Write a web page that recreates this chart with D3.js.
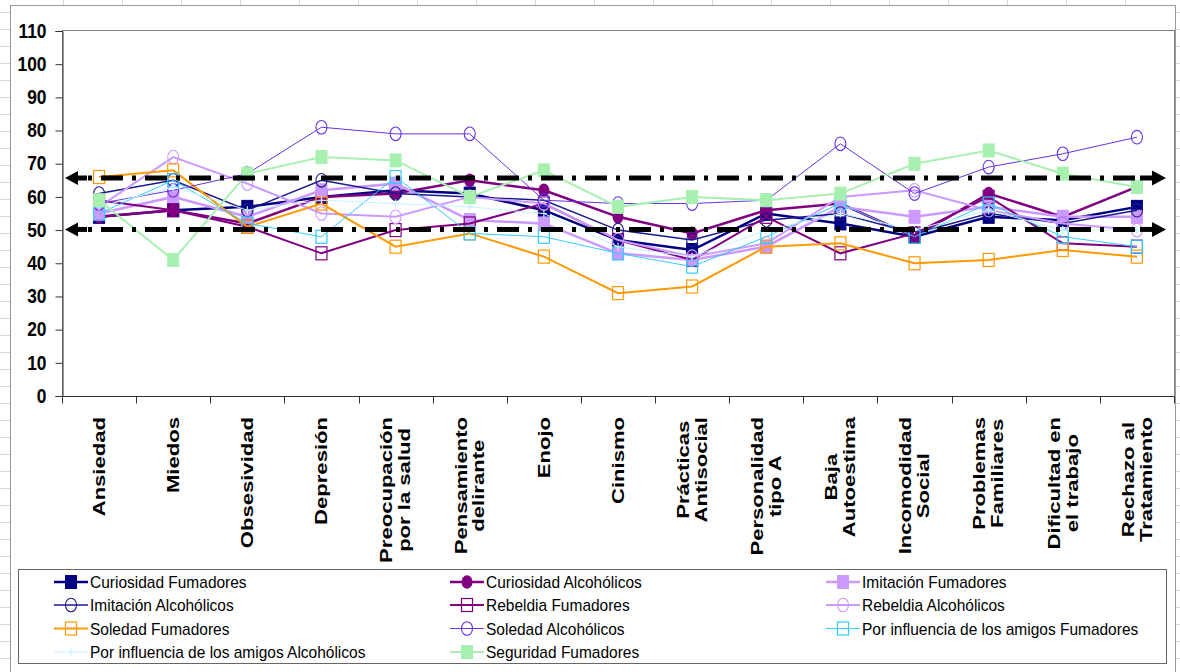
<!DOCTYPE html>
<html>
<head>
<meta charset="utf-8">
<script src="https://cdn.jsdelivr.net/npm/d3@7/dist/d3.min.js"></script>
<style>
    body { margin: 0; background: #fff; }
    svg { display: block; font-family: "Liberation Sans", Arial, sans-serif; }
</style>
</head>
<body>
<svg id="chart" width="1180" height="672"></svg>
<script>
// Categorias del eje X (las etiquetas van en dos lineas como en Excel)
const categories = ['Ansiedad', 'Miedos', 'Obsesividad', 'Depresión', 'Preocupación por la salud',
    'Pensamiento delirante', 'Enojo', 'Cinismo', 'Prácticas Antisocial', 'Personalidad tipo A',
    'Baja Autoestima', 'Incomodidad Social', 'Problemas Familiares', 'Dificultad en el trabajo',
    'Rechazo al Tratamiento'];
const catLabels = [['Ansiedad'], ['Miedos'], ['Obsesividad'], ['Depresión'], ['Preocupación', 'por la salud'],
    ['Pensamiento', 'delirante'], ['Enojo'], ['Cinismo'], ['Prácticas', 'Antisocial'], ['Personalidad', 'tipo A'],
    ['Baja', 'Autoestima'], ['Incomodidad', 'Social'], ['Problemas', 'Familiares'], ['Dificultad en', 'el trabajo'],
    ['Rechazo al', 'Tratamiento']];
const yTicks = [0, 10, 20, 30, 40, 50, 60, 70, 80, 90, 100, 110];

// Valores (aprox.)
const curiosidadFum = [54, 56, 57, 60, 62, 61, 56, 47, 44, 55, 52, 48, 54, 53, 57];
const curiosidadAlc = [54, 56, 52, 60, 61, 65, 62, 54, 49, 56, 58, 48, 61, 54, 63];
const imitacionFum = [55, 60, 54, 62, 64, 53, 52, 43, 41, 45, 57, 54, 57, 54, 54];
const imitacionAlc = [61, 65, 56, 65, 61, 60, 59, 50, 47, 53, 55, 49, 55, 52, 56];
const rebeldiaFum = [59, 56, 51, 43, 50, 52, 58, 47, 41, 54, 43, 49, 60, 46, 45];
const rebeldiaAlc = [57, 72, 64, 55, 54, 60, 58, 47, 42, 46, 60, 62, 56, 52, 50];
const soledadFum = [66, 68, 51, 58, 45, 49, 42, 31, 33, 45, 46, 40, 41, 44, 42];
const soledadAlc = [58, 62, 67, 81, 79, 79, 59, 58, 58, 59, 76, 61, 69, 73, 78];
const influenciaFum = [55, 65, 52, 48, 66, 49, 48, 43, 39, 48, 58, 48, 58, 48, 45];
const influenciaAlc = [57, 63, 56, 59, 58, 57, 55, 45, 42, 50, 55, 50, 56, 50, 50];
const seguridadFum = [59, 41, 67, 72, 71, 60, 68, 57, 60, 59, 61, 70, 74, 67, 63];

// lineas de referencia punteadas con flechas
const refLines = [65.7, 50.2];

// tabla de series (orden de la leyenda)
const series = [
    { name: 'Curiosidad Fumadores', values: curiosidadFum, color: '#000080', w: 2.5, mk: 'sqFill' },
    { name: 'Curiosidad Alcohólicos', values: curiosidadAlc, color: '#800080', w: 2.5, mk: 'ciFill' },
    { name: 'Imitación Fumadores', values: imitacionFum, color: '#CC99FF', w: 2.5, mk: 'sqFill' },
    { name: 'Imitación Alcohólicos', values: imitacionAlc, color: '#1a1a8c', w: 1.5, mk: 'ciOpen' },
    { name: 'Rebeldia Fumadores', values: rebeldiaFum, color: '#800080', w: 2, mk: 'sqOpen' },
    { name: 'Rebeldia Alcohólicos', values: rebeldiaAlc, color: '#CC99FF', w: 2, mk: 'ciOpen' },
    { name: 'Soledad Fumadores', values: soledadFum, color: '#FF9900', w: 2, mk: 'sqOpen' },
    { name: 'Soledad Alcohólicos', values: soledadAlc, color: '#6633E6', w: 1, mk: 'ciOpen' },
    { name: 'Por influencia de los amigos Fumadores', values: influenciaFum, color: '#33CCFF', w: 1, mk: 'sqOpen' },
    { name: 'Por influencia de los amigos Alcohólicos', values: influenciaAlc, color: '#C4F4FF', w: 1, mk: 'plus' },
    { name: 'Seguridad Fumadores', values: seguridadFum, color: '#A8F0B0', w: 2, mk: 'sqFill' }
];

const svg = d3.select('#chart');

// cuadricula de Excel alrededor del grafico
const grid = svg.append('g').attr('stroke', '#d8d8d8').attr('stroke-width', 1);
d3.range(12, 672, 17).forEach((gy) => {
    grid.append('line').attr('x1', 0).attr('x2', 10).attr('y1', gy + 0.5).attr('y2', gy + 0.5);
    grid.append('line').attr('x1', 1176).attr('x2', 1180).attr('y1', gy + 0.5).attr('y2', gy + 0.5);
});
d3.range(63, 1180, 59).forEach((gx) => {
    grid.append('line').attr('x1', gx + 0.5).attr('x2', gx + 0.5).attr('y1', 0).attr('y2', 5);
});
svg.append('rect').attr('x', 10.5).attr('y', 5.5).attr('width', 1165).attr('height', 700)
    .attr('fill', '#fff').attr('stroke', '#9a9a9a');

const x = d3.scaleBand().domain(categories).range([62, 1174]);
const y = d3.scaleLinear().domain([0, 110]).range([396, 31]);
const cx = (i) => x(categories[i]) + x.bandwidth() / 2;

// borde del area de trazado
svg.append('rect').attr('x', 62.5).attr('y', 30.5).attr('width', 1112).attr('height', 366)
    .attr('fill', 'none').attr('stroke', '#808080');

// Eje Y
const yAxis = svg.append('g').attr('transform', 'translate(62.5,0)')
    .call(d3.axisLeft(y).tickValues(yTicks).tickSize(7).tickPadding(9));
yAxis.select('.domain').attr('stroke', '#333');
yAxis.selectAll('.tick line').attr('stroke', '#333');
yAxis.selectAll('.tick text')
    .attr('font-family', '"Liberation Sans", Arial, sans-serif')
    .attr('font-size', 17.4).attr('font-weight', 'bold').attr('fill', '#000')
    .attr('transform', 'scale(1,1.12)');

// Eje X: linea + marcas entre categorias
const xAxis = svg.append('g').attr('transform', 'translate(0,396.5)');
xAxis.append('line').attr('x1', 62).attr('x2', 1174).attr('stroke', '#333');
xAxis.selectAll('line.tk').data(categories.concat(['_end'])).join('line')
    .attr('class', 'tk')
    .attr('x1', (d, i) => Math.round(i < categories.length ? x(d) : x.range()[1]) + 0.5)
    .attr('x2', (d, i) => Math.round(i < categories.length ? x(d) : x.range()[1]) + 0.5)
    .attr('y1', 0).attr('y2', 7).attr('stroke', '#333');

// etiquetas rotadas
const lineH = 18;
categories.forEach((c, ci) => {
    const lines = catLabels[ci];
    const g = svg.append('g')
        .attr('transform', `translate(${cx(ci)},417) rotate(-90) scale(1.38,1)`);
    const texts = lines.map((t, li) => g.append('text')
        .attr('x', 0)
        .attr('y', (li - (lines.length - 1) / 2) * lineH)
        .attr('dy', '0.36em')
        .attr('text-anchor', 'end')
        .attr('font-size', 16).attr('font-weight', 'bold')
        .text(t));
    const widths = texts.map((t) => t.node().getComputedTextLength());
    const maxW = d3.max(widths);
    texts.forEach((t, li) => t.attr('x', -(maxW - widths[li]) / 2));
});

// marcadores
const addMarker = (sel, s) => {
    switch (s.mk) {
        case 'sqFill':
            sel.append('rect').attr('x', -5.5).attr('y', -6.5).attr('width', 11).attr('height', 13)
                .attr('fill', s.color).attr('stroke', s.color);
            break;
        case 'sqOpen':
            sel.append('rect').attr('x', -5.5).attr('y', -6.5).attr('width', 11).attr('height', 13)
                .attr('fill', 'none').attr('stroke', s.color).attr('stroke-width', 1.2);
            break;
        case 'ciFill':
            sel.append('ellipse').attr('rx', 5.5).attr('ry', 6.8).attr('fill', s.color);
            break;
        case 'ciOpen':
            sel.append('ellipse').attr('rx', 5.5).attr('ry', 6.8)
                .attr('fill', 'none').attr('stroke', s.color).attr('stroke-width', 1.1);
            break;
        default:
            sel.append('path').attr('d', 'M-3,0H3M0,-4V4').attr('stroke', s.color).attr('stroke-width', 1.2);
    }
};

const line = d3.line().x((d, i) => cx(i)).y((d) => y(d));
const plotG = svg.append('g');
series.forEach((s) => {
    const g = plotG.append('g');
    g.append('path').datum(s.values).attr('d', line)
        .attr('fill', 'none').attr('stroke', s.color).attr('stroke-width', s.w);
    const pts = g.selectAll('g.pt').data(s.values).join('g')
        .attr('class', 'pt')
        .attr('transform', (d, i) => `translate(${cx(i)},${y(d)})`);
    addMarker(pts, s);
});

// lineas de referencia con flechas a ambos lados
refLines.forEach((v) => {
    const ry = y(v);
    svg.append('line').attr('x1', 88).attr('x2', 1142).attr('y1', ry).attr('y2', ry)
        .attr('stroke', '#000').attr('stroke-width', 5)
        .attr('stroke-dasharray', '4,9,22,9');
    svg.append('line').attr('x1', 76).attr('x2', 87).attr('y1', ry).attr('y2', ry)
        .attr('stroke', '#000').attr('stroke-width', 5);
    svg.append('path').attr('d', `M65,${ry}L78,${ry - 7}L78,${ry + 7}Z`).attr('fill', '#000');
    svg.append('line').attr('x1', 1140).attr('x2', 1153).attr('y1', ry).attr('y2', ry)
        .attr('stroke', '#000').attr('stroke-width', 5);
    svg.append('path').attr('d', `M1166,${ry}L1152,${ry - 7.5}L1152,${ry + 7.5}Z`).attr('fill', '#000');
});

// Leyenda
svg.append('rect').attr('x', 18.5).attr('y', 569.5).attr('width', 1148).attr('height', 94)
    .attr('fill', '#fff').attr('stroke', '#666');
const legCols = [54, 450, 826];
const legRows = [582, 605, 628.5, 652];
series.forEach((s, i) => {
    const lx = legCols[i % 3];
    const ly = legRows[Math.floor(i / 3)];
    const g = svg.append('g');
    g.append('line').attr('x1', lx).attr('x2', lx + 34).attr('y1', ly).attr('y2', ly)
        .attr('stroke', s.color).attr('stroke-width', s.w);
    const m = g.append('g').attr('transform', `translate(${lx + 17},${ly})`);
    addMarker(m, s);
    g.append('text').attr('x', lx + 36).attr('y', ly).attr('dy', '0.36em')
        .attr('font-size', 15.5).attr('fill', '#000')
        .attr('transform', `translate(0,${-ly * 0.12}) scale(1,1.12)`)
        .text(s.name);
});
</script>
</body>
</html>
